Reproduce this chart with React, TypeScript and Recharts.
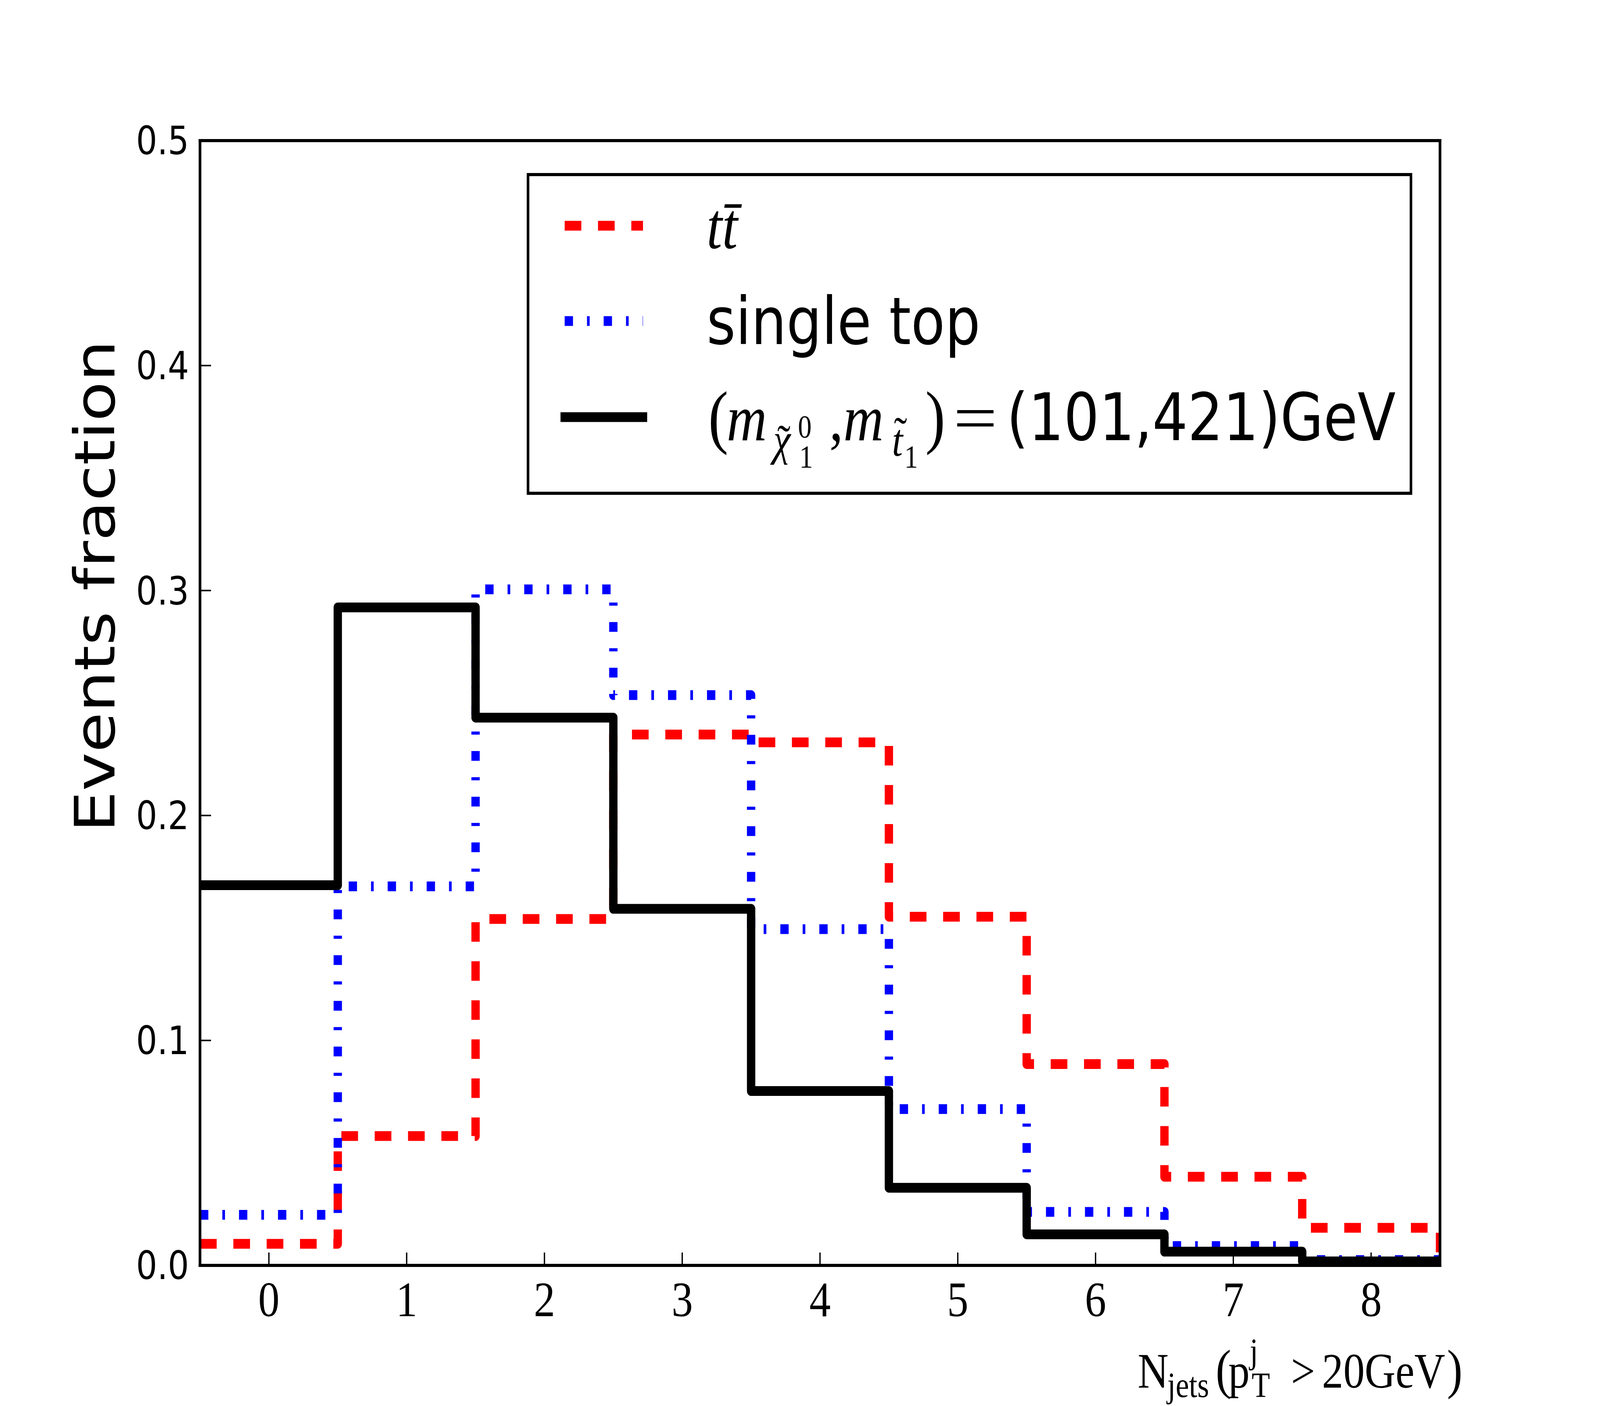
import { LineChart, Line, XAxis, YAxis, Legend } from 'recharts';

// jet multiplicity bins (centres)
const nJets = [0, 1, 2, 3, 4, 5, 6, 7, 8];

// event fractions per bin
const ttbar = [0.0096, 0.0575, 0.154, 0.236, 0.2325, 0.155, 0.0895, 0.0394, 0.0167];
const singleTop = [0.0225, 0.1685, 0.3005, 0.2535, 0.1495, 0.0695, 0.0238, 0.0086, 0.0024];
const signal = [0.169, 0.2925, 0.2435, 0.1585, 0.0775, 0.0345, 0.0138, 0.0061, 0.0018];

const yTicks = [0, 0.1, 0.2, 0.3, 0.4, 0.5];

const W = 4800;
const H = 3600;

// histogram outline for histtype="step": left edge of each bin, last right edge, then down to zero
const last = nJets.length - 1;
const rows = nJets.map((n, i) => ({
  x: n - 0.5,
  ttbar: ttbar[i],
  singleTop: singleTop[i],
  signal: signal[i],
}));
rows.push({ x: nJets[last] + 0.5, ttbar: ttbar[last], singleTop: singleTop[last], signal: signal[last] });
rows.push({ x: nJets[last] + 0.5, ttbar: 0, singleTop: 0, signal: 0 });

const SERIF = 'Liberation Serif';
const SANS = 'DejaVu Sans';

const spine = { stroke: '#000', strokeWidth: 8, strokeLinecap: 'square' as const };
const tickStroke = { stroke: '#000', strokeWidth: 4 };

if (typeof document !== 'undefined') {
  document.documentElement.style.overflow = 'hidden';
}

function LegendBox() {
  const lx1 = 114;
  const lx2 = 349;
  return (
    <svg width={2657} height={824} style={{ display: 'block' }}>
      <rect x={4} y={4} width={2649} height={816} fill="#fff" stroke="#000" strokeWidth={8} />
      <line x1={lx1} x2={lx2} y1={135} y2={135} stroke="#ff0000" strokeWidth={25} strokeDasharray="50 50" />
      <line x1={lx1} x2={lx2} y1={379} y2={379} stroke="#0000ff" strokeWidth={25} strokeDasharray="25 42 8 42" />
      <line x1={lx1} x2={lx2} y1={625} y2={625} stroke="#000" strokeWidth={25} strokeLinecap="square" />

      <text x={540} y={192} fontFamily={SERIF} fontStyle="italic" fontSize={167} fill="#000">
        {'tt\u0304'}
      </text>

      <text x={540} y={438} fontFamily={SANS} fontSize={167} fill="#000">
        single top
      </text>

      {/* (m_{chi~_1^0}, m_{t~_1}) = (101,421)GeV */}
      <g fill="#000" fontFamily={SERIF}>
        <text x={545} y={684} fontSize={180}>(</text>
        <text x={600} y={684} fontSize={167} fontStyle="italic">m</text>
        <text x={740} y={722} fontSize={117} fontStyle="italic">{'\u03c7'}</text>
        <text x={752} y={726} fontSize={117}>{'\u02dc'}</text>
        <text x={814} y={677} fontSize={82}>0</text>
        <text x={818} y={754} fontSize={82}>1</text>
        <text x={908} y={684} fontSize={167}>,</text>
        <text x={950} y={684} fontSize={167} fontStyle="italic">m</text>
        <text x={1096} y={724} fontSize={117} fontStyle="italic">t</text>
        <text x={1102} y={706} fontSize={117}>{'\u02dc'}</text>
        <text x={1133} y={754} fontSize={82}>1</text>
        <text x={1196} y={684} fontSize={180}>)</text>
        <text x={1280} y={684} fontSize={167} textLength={132} lengthAdjust="spacingAndGlyphs">=</text>
      </g>
      <text x={1440} y={684} fontFamily={SANS} fontSize={167} fill="#000">
        (101,421)GeV
      </text>
    </svg>
  );
}

function renderYLabel(props: any) {
  const vb = props.viewBox;
  const x = vb.x + 343;
  const y = vb.y + 1141;
  return (
    <text
      x={x}
      y={y}
      transform={`rotate(-90, ${x}, ${y})`}
      textAnchor="middle"
      fontFamily={SANS}
      fontSize={167}
      fill="#000"
    >
      Events fraction
    </text>
  );
}

function renderXLabel(props: any) {
  const vb = props.viewBox;
  const x0 = vb.x + 2813;
  const base = vb.y + 313;
  return (
    <g fill="#000" fontFamily={SERIF}>
      <text x={x0} y={base} fontSize={128}>N</text>
      <text x={x0 + 89} y={base + 24} fontSize={90}>jets</text>
      <text x={x0 + 234} y={base} fontSize={140}>(</text>
      <text x={x0 + 272} y={base} fontSize={128}>p</text>
      <text x={x0 + 336} y={base - 63} fontSize={90}>j</text>
      <text x={x0 + 342} y={base + 24} fontSize={90}>T</text>
      <text x={x0 + 460} y={base} fontSize={128}>{'>'}</text>
      <text x={x0 + 553} y={base} fontSize={128}>20GeV</text>
      <text x={x0 + 928} y={base} fontSize={140}>)</text>
    </g>
  );
}

export default function App() {
  // the page may be narrower than the design size, so fit the whole figure into it
  const vw = typeof window !== 'undefined' ? window.innerWidth : W;
  const vh = typeof window !== 'undefined' ? window.innerHeight : H;
  const sx = vw / W;
  const sy = vh / H;
  return (
    <div
      style={{
        position: 'absolute',
        left: 0,
        top: 0,
        width: W,
        height: H,
        background: '#fff',
        transform: `scale(${sx}, ${sy})`,
        transformOrigin: '0 0',
      }}
    >
      <LineChart width={W} height={H} data={rows} margin={{ top: 0, right: 0, bottom: 0, left: 0 }}>
        <XAxis
          dataKey="x"
          type="number"
          domain={[-0.5, 8.5]}
          ticks={nJets}
          interval={0}
          allowDataOverflow
          height={360}
          tickSize={-33}
          tickMargin={72}
          axisLine={spine}
          tickLine={tickStroke}
          tick={{ fontFamily: SERIF, fontSize: 128, fill: '#000' }}
          label={renderXLabel}
        />
        <XAxis
          xAxisId="top"
          orientation="top"
          dataKey="x"
          type="number"
          domain={[-0.5, 8.5]}
          ticks={nJets}
          interval={0}
          height={360}
          tickSize={-33}
          tick={false}
          axisLine={spine}
          tickLine={tickStroke}
        />
        <YAxis
          type="number"
          domain={[0, 0.5]}
          ticks={yTicks}
          interval={0}
          width={600}
          tickSize={-33}
          tickMargin={66}
          axisLine={spine}
          tickLine={tickStroke}
          tickFormatter={(v: number) => v.toFixed(1)}
          tick={{ fontFamily: SANS, fontSize: 100, fill: '#000' }}
          label={renderYLabel}
        />
        <YAxis
          yAxisId="right"
          orientation="right"
          type="number"
          domain={[0, 0.5]}
          ticks={yTicks}
          interval={0}
          width={480}
          tickSize={-33}
          tick={false}
          axisLine={spine}
          tickLine={tickStroke}
        />
        <Line
          dataKey="ttbar"
          type="stepAfter"
          stroke="#ff0000"
          strokeWidth={25}
          strokeDasharray="50 50"
          strokeLinejoin="round"
          dot={false}
          activeDot={false}
          isAnimationActive={false}
        />
        <Line
          dataKey="singleTop"
          type="stepAfter"
          stroke="#0000ff"
          strokeWidth={25}
          strokeDasharray="25 42 8 42"
          strokeLinejoin="round"
          dot={false}
          activeDot={false}
          isAnimationActive={false}
        />
        <Line
          dataKey="signal"
          type="stepAfter"
          stroke="#000000"
          strokeWidth={25}
          strokeLinejoin="round"
          dot={false}
          activeDot={false}
          isAnimationActive={false}
        />
        <Legend
          layout="vertical"
          align="center"
          verticalAlign="middle"
          wrapperStyle={{ left: 1580, top: 443, width: 2657, height: 824 }}
          content={() => <LegendBox />}
        />
      </LineChart>
    </div>
  );
}
